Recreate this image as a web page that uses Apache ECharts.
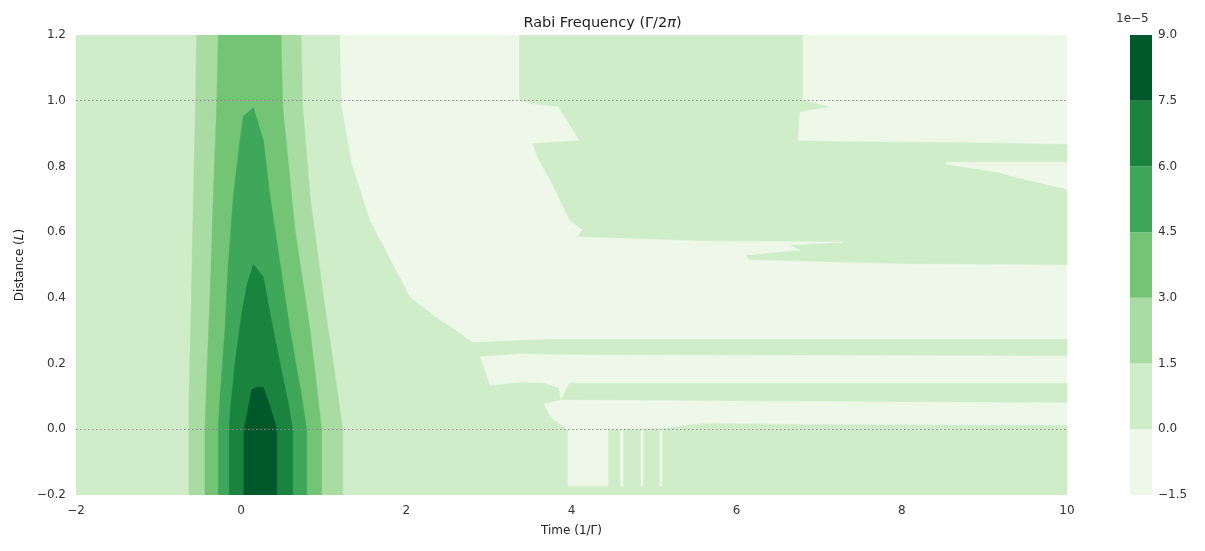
<!DOCTYPE html>
<html><head><meta charset="utf-8">
<script src="https://cdn.jsdelivr.net/npm/echarts@6/dist/echarts.min.js"></script>
<style>html,body{margin:0;padding:0;background:#fff}#c{width:1205px;height:551px}</style>
</head><body><div id="c"></div>
<script>
// contour levels (×1e-5) and colours
const levelBounds = [-1.5, 0, 1.5, 3, 4.5, 6, 7.5, 9];
const levelColors = ['#edf8e9','#d0edca','#a8dca2','#74c476','#3fa75a','#1a843f','#00592a'];
const xTicks = [-2, 0, 2, 4, 6, 8, 10];
const yTicks = [-0.2, 0, 0.2, 0.4, 0.6, 0.8, 1.0, 1.2];

// filled contour regions: [time, distance] vertices
const bgLevel1 = [[-2,-0.2],[10,-0.2],[10,1.2],[-2,1.2]];
const lowA = [[1.197,1.2],[3.364,1.2],[3.364,1.002],[3.510,0.990],[3.837,0.981],[4.091,0.880],[3.522,0.871],[3.582,0.829],[3.800,0.728],[3.970,0.637],[4.127,0.607],[4.067,0.585],[5.520,0.573],[7.276,0.570],[6.634,0.561],[6.767,0.546],[6.101,0.530],[6.162,0.515],[7.954,0.503],[10,0.500],[10,0.275],[3.776,0.275],[3.389,0.272],[2.795,0.266],[2.602,0.302],[2.408,0.333],[2.045,0.403],[1.560,0.637],[1.342,0.810],[1.221,0.981]];
const lowB = [[6.804,1.2],[10,1.2],[10,0.868],[8.705,0.874],[7.276,0.877],[6.743,0.880],[6.767,0.966],[7.155,0.981],[6.804,1.002]];
const lowC = [[8.535,0.813],[10,0.813],[10,0.731],[9.419,0.765],[9.153,0.783],[8.535,0.807]];
const lowD = [[2.892,0.220],[3.389,0.229],[3.982,0.226],[10,0.223],[10,0.141],[3.970,0.141],[3.873,0.092],[3.849,0.126],[3.679,0.141],[3.389,0.144],[3.013,0.135],[2.941,0.190]];
const lowE = [[3.873,0.089],[10,0.080],[10,0.013],[7.009,0.016],[5.580,0.019],[5.145,0.004],[3.958,-0.002],[3.752,0.037],[3.667,0.077]];
const lowP1 = [[3.958,0],[4.442,0],[4.442,-0.173],[3.958,-0.173]];
const lowP2 = [[4.594,0],[4.624,0],[4.624,-0.173],[4.594,-0.173]];
const lowP3 = [[4.842,0],[4.867,0],[4.867,-0.173],[4.842,-0.173]];
const lowP4 = [[5.072,0],[5.096,0],[5.096,-0.173],[5.072,-0.173]];
const lev2 = [[-0.539,1.2],[-0.559,0.911],[-0.587,0.607],[-0.611,0.302],[-0.632,0.099],[-0.632,-0.2],[1.229,-0.2],[1.229,0.0],[1.116,0.201],[0.995,0.404],[0.834,0.708],[0.745,0.982],[0.725,1.2]];
const lev3 = [[-0.276,1.2],[-0.297,0.982],[-0.337,0.708],[-0.377,0.404],[-0.410,0.201],[-0.438,0],[-0.438,-0.2],[0.975,-0.2],[0.975,0],[0.834,0.302],[0.652,0.607],[0.503,0.982],[0.482,1.2]];
const lev4 = [[0.147,0.979],[0.026,0.952],[-0.014,0.880],[-0.095,0.708],[-0.155,0.505],[-0.196,0.302],[-0.256,0.099],[-0.276,0],[-0.276,-0.2],[0.793,-0.2],[0.793,0],[0.733,0.099],[0.591,0.302],[0.470,0.505],[0.349,0.708],[0.268,0.880]];
const lev5 = [[0.147,0.502],[0.075,0.444],[0.006,0.353],[-0.075,0.201],[-0.135,0.049],[-0.143,0],[-0.143,-0.2],[0.624,-0.2],[0.624,0],[0.571,0.079],[0.470,0.201],[0.349,0.353],[0.268,0.464]];
const lev6 = [[0.188,0.128],[0.268,0.128],[0.349,0.069],[0.410,0.018],[0.430,0],[0.430,-0.2],[0.034,-0.2],[0.034,0],[0.075,0.049],[0.127,0.120]];

const regions = [
  [bgLevel1,1],[lowA,0],[lowB,0],[lowC,0],[lowD,0],[lowE,0],[lowP1,0],[lowP2,0],[lowP3,0],[lowP4,0],
  [lev2,2],[lev3,3],[lev4,4],[lev5,5],[lev6,6]
];

const chart = echarts.init(document.getElementById('c'));
const fmtMinus = v => String(v).replace('-', '\u2212');
chart.setOption({
  animation:false,
  title:{text:'{a|Rabi Frequency (Γ/2}{i|π}{a|)}',left:'center',top:11,
    textStyle:{fontWeight:'normal',rich:{a:{fontSize:14.5,color:'#222',fontWeight:'normal',fontFamily:'DejaVu Sans'},i:{fontSize:14.5,color:'#222',fontWeight:'normal',fontStyle:'italic',fontFamily:'DejaVu Sans'}}}},
  grid:[{left:76,right:138,top:35,bottom:56},{left:1130,width:22,top:35,bottom:56}],
  xAxis:[
    {type:'value',min:-2,max:10,interval:2,gridIndex:0,axisLine:{show:false},axisTick:{show:false},splitLine:{show:false},
      axisLabel:{color:'#333',fontSize:12,fontFamily:'DejaVu Sans',margin:10,formatter:fmtMinus},
      name:'Time (1/Γ)',nameLocation:'middle',nameGap:30,nameTextStyle:{color:'#222',fontSize:12,fontFamily:'DejaVu Sans'}},
    {type:'value',min:0,max:1,gridIndex:1,show:false}
  ],
  yAxis:[
    {type:'value',min:-0.2,max:1.2,interval:0.2,gridIndex:0,axisLine:{show:false},axisTick:{show:false},splitLine:{show:false},
      axisLabel:{color:'#333',fontSize:12,fontFamily:'DejaVu Sans',margin:10,formatter:v=>fmtMinus(v.toFixed(1))},
      name:'{a|Distance (}{i|L}{a|)}',nameLocation:'middle',nameGap:46,
      nameTextStyle:{rich:{a:{color:'#222',fontSize:12,fontFamily:'DejaVu Sans'},i:{color:'#222',fontSize:12,fontStyle:'italic',fontFamily:'DejaVu Sans'}}}},
    {type:'value',min:-1.5,max:9,interval:1.5,gridIndex:1,position:'right',axisLine:{show:false},axisTick:{show:false},splitLine:{show:false},
      axisLabel:{color:'#333',fontSize:12,fontFamily:'DejaVu Sans',margin:6,formatter:v=>fmtMinus(v.toFixed(1))},
      name:'1e\u22125',nameLocation:'end',nameGap:10,nameTextStyle:{color:'#333',fontSize:12,fontFamily:'DejaVu Sans',align:'left',padding:[0,0,0,-14]}}
  ],
  series:[
    {type:'custom',xAxisIndex:0,yAxisIndex:0,clip:true,
      data:regions.map((r,i)=>[i]),
      renderItem:(params,api)=>{
        const r = regions[api.value(0)];
        return {type:'polygon',shape:{points:r[0].map(p=>api.coord(p))},style:{fill:levelColors[r[1]],stroke:levelColors[r[1]],lineWidth:0.5}};
      },
      markLine:{silent:true,symbol:'none',label:{show:false},lineStyle:{color:'#8a8a8a',type:[1.5,2.5],width:1.2},data:[{yAxis:0},{yAxis:1}]}
    },
    {type:'custom',xAxisIndex:1,yAxisIndex:1,
      data:levelColors.map((c,i)=>[levelBounds[i],levelBounds[i+1],i]),
      renderItem:(params,api)=>{
        const p0 = api.coord([0,api.value(1)]), p1 = api.coord([1,api.value(0)]);
        return {type:'rect',shape:{x:p0[0],y:p0[1],width:p1[0]-p0[0],height:p1[1]-p0[1]},style:{fill:levelColors[api.value(2)]}};
      }
    }
  ]
});
</script></body></html>
